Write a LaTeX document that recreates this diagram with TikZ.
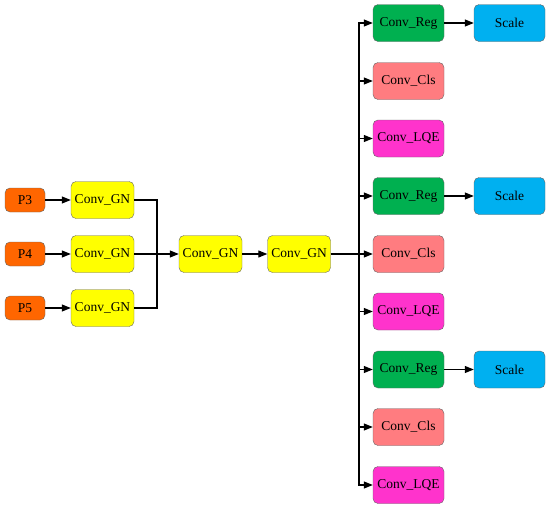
\documentclass[tikz,border=0pt]{standalone}
\usepackage{fontspec}
\setmainfont{Liberation Serif}
\usetikzlibrary{arrows.meta}
\definecolor{porange}{HTML}{FF6600}
\definecolor{gyellow}{HTML}{FFFF00}
\definecolor{rgreen}{HTML}{00B050}
\definecolor{sblue}{HTML}{00B0F0}
\definecolor{cpink}{HTML}{FF7C80}
\definecolor{lmag}{HTML}{FF33CC}
\tikzset{
  box/.style={draw=black!60, rounded corners=5pt, minimum height=37pt, inner sep=0pt, font=\fontsize{13.5pt}{15pt}\selectfont, text=black},
  pbox/.style={box, fill=porange, minimum width=40pt, minimum height=24pt},
  gnbox/.style={box, fill=gyellow, minimum width=63pt},
  regbox/.style={box, fill=rgreen, minimum width=71pt},
  clsbox/.style={box, fill=cpink, minimum width=71pt},
  lqebox/.style={box, fill=lmag, minimum width=71pt},
  scalebox/.style={box, fill=sblue, minimum width=71pt},
  conn/.style={draw=black, line width=1.1pt},
  arr/.style={conn, -{Triangle[length=9pt,width=7pt]}}
}
\begin{document}
\begin{tikzpicture}[x=1pt,y=-1pt]
\useasboundingbox (0,0) rectangle (550,509);
\node[pbox] (p3) at (25,200) {P3};
\node[pbox] (p4) at (25,254) {P4};
\node[pbox] (p5) at (25,308) {P5};
\node[gnbox] (g1) at (102.5,200) {Conv\_GN};
\node[gnbox] (g2) at (102.5,254) {Conv\_GN};
\node[gnbox] (g3) at (102.5,308) {Conv\_GN};
\node[gnbox] (g4) at (210.5,254) {Conv\_GN};
\node[gnbox] (g5) at (299,254) {Conv\_GN};
\coordinate (m) at (157,254);
\coordinate (s) at (359,254);
\node[regbox] (r1) at (408.5,23) {Conv\_Reg};
\node[clsbox] (c1) at (408.5,81) {Conv\_Cls};
\node[lqebox] (l1) at (408.5,138.5) {Conv\_LQE};
\node[regbox] (r2) at (408.5,196) {Conv\_Reg};
\node[clsbox] (c2) at (408.5,254) {Conv\_Cls};
\node[lqebox] (l2) at (408.5,311.5) {Conv\_LQE};
\node[regbox] (r3) at (408.5,369.5) {Conv\_Reg};
\node[clsbox] (c3) at (408.5,427) {Conv\_Cls};
\node[lqebox] (l3) at (408.5,485) {Conv\_LQE};
\node[scalebox] (s1) at (509.5,23) {Scale};
\node[scalebox] (s2) at (509.5,196) {Scale};
\node[scalebox] (s3) at (509.5,369.5) {Scale};
\draw[arr] (p3) -- (g1);
\draw[arr] (p4) -- (g2);
\draw[arr] (p5) -- (g3);
\draw[conn] (g1.east) -| (m);
\draw[conn] (g3.east) -| (m);
\draw[conn] (g2.east) -- (m);
\draw[arr] (m) -- (g4.west);
\draw[arr] (g4) -- (g5);
\draw[conn] (g5.east) -- (s);
\foreach \n in {r1,c1,l1,r2,l2,r3,c3,l3} {\draw[arr] (s) |- (\n.west);}
\draw[arr] (s) -- (c2.west);
\draw[arr] (r1) -- (s1);
\draw[arr] (r2) -- (s2);
\draw[arr] (r3) -- (s3);
\end{tikzpicture}
\end{document}
